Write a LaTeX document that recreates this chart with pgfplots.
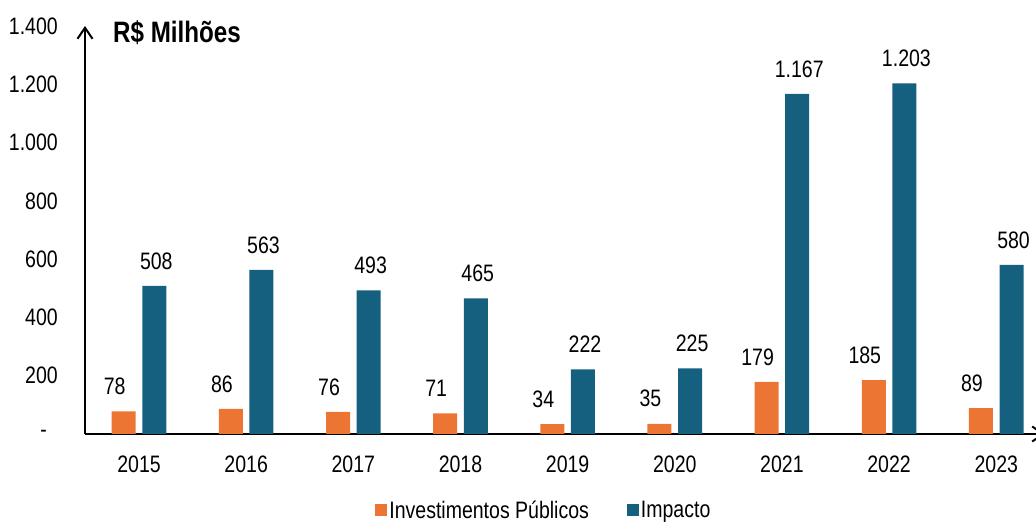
\documentclass[border=0pt]{standalone}
\usepackage{fontspec}
\setmainfont{Liberation Sans}[FakeStretch=0.82]
\usepackage{pgfplots}
\pgfplotsset{compat=1.18}
\usetikzlibrary{arrows.meta}
\definecolor{orng}{HTML}{EC7534}
\definecolor{blu}{HTML}{16607F}
\begin{document}
\begin{tikzpicture}[x=1pt,y=1pt]
\useasboundingbox (0,0) rectangle (1036,522);
\begin{axis}[
  at={(85pt,88pt)}, anchor=south west,
  scale only axis, width=960pt, height=408pt,
  xmin=-0.504, xmax=8.455, ymin=0, ymax=1400,
  enlargelimits=false, clip=false,
  axis lines=left,
  axis line style={line width=2pt, -{Straight Barb[length=11pt,width=15pt]}},
  major tick length=0pt,
  xtick={0,1,2,3,4,5,6,7,8},
  xticklabels={2015,2016,2017,2018,2019,2020,2021,2022,2023},
  ytick={0,200,400,600,800,1000,1200,1400},
  yticklabels={{-\hphantom{0}},200,400,600,800,{1.000},{1.200},{1.400}},
  tick label style={font=\fontsize{23.8}{28}\selectfont},
  yticklabel style={anchor=east, inner sep=0pt, xshift=-27pt},
  xticklabel style={anchor=center, inner sep=0pt, yshift=-30pt},
  ybar, bar width=24pt,
  /pgf/number format/.cd, 1000 sep={.}, assume math mode=true, /pgfplots/.cd,
  nodes near coords,
  every node near coord/.append style={font=\fontsize{23.8}{28}\selectfont, anchor=center, inner sep=0pt, yshift=25pt},
  legend style={draw=none, fill=none, legend columns=2, inner sep=0pt,
    font=\fontsize{23.8}{28}\selectfont,
    at={(rel axis cs:0.478,0)}, anchor=center, yshift=-76pt,
    /tikz/every even column/.append style={column sep=36pt}},
  legend image code/.code={\path[#1,draw=none] (0pt,-6pt) rectangle (12pt,6pt);},
]
\addplot[fill=orng, draw=none, bar shift=-15.3pt, every node near coord/.append style={xshift=-9pt}] coordinates {
(0,78) (1,86) (2,76) (3,71) (4,34) (5,35) (6,179) (7,185) (8,89)};
\addplot[fill=blu, draw=none, bar shift=15.3pt, every node near coord/.append style={xshift=2pt}] coordinates {
(0,508) (1,563) (2,493) (3,465) (4,222) (5,225) (6,1167) (7,1203) (8,580)};
\legend{Investimentos Públicos, Impacto}
\end{axis}
\node[anchor=west, inner sep=0pt] at (113,489) {\bfseries\fontsize{29.5}{30}\selectfont R\$ Milhões};
\end{tikzpicture}
\end{document}
